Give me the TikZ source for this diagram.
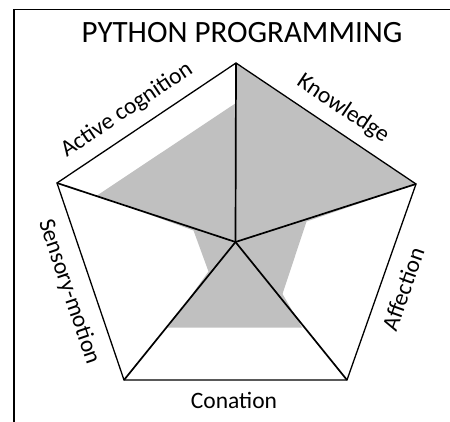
\documentclass[tikz,border=0pt]{standalone}
\usepackage{fontspec}
\setmainfont{Carlito}
\definecolor{radargray}{RGB}{192,192,192}
\begin{document}
\begin{tikzpicture}[x=1pt,y=-1pt,
  frame/.style={line width=1.6pt},
  rim/.style={line width=1.3pt, line join=miter},
  spoke/.style={line width=1.7pt},
  lab/.style={font=\fontsize{23.5}{25}\selectfont, inner sep=0pt},
  ttl/.style={font=\fontsize{31}{33}\selectfont, inner sep=0pt}]
\useasboundingbox (0,0) rectangle (450,421);
% radar area
\fill[radargray] (236,63) -- (416,184) -- (306.5,221.5) -- (282.5,294) -- (302,327.5)
  -- (168,327.5) -- (208.5,271.5) -- (193.5,230.5) -- (97,195.5) -- (236,103) -- cycle;
% frame
\draw[frame] (14,9.5) rectangle (470,440);
% vertices
\coordinate (c) at (235.5,242);
\coordinate (t) at (236,63);
\coordinate (r) at (416,184);
\coordinate (br) at (347,380);
\coordinate (bl) at (124,380);
\coordinate (l) at (57,183);
\draw[rim] (t) -- (r) -- (br) -- (bl) -- (l) -- cycle;
\foreach \v in {t,r,br,bl,l} \draw[spoke] (c) -- (\v);
% labels
\node[ttl] (title) at (242,33) {PYTHON PROGRAMMING};
\node[lab, rotate=33.8] (ac) at (127,110) {Active cognition};
\node[lab, rotate=-33.9] (kn) at (343,109) {Knowledge};
\node[lab, rotate=70.6] (af) at (403,289) {Affection};
\node[lab, rotate=-71.2] (sm) at (69,292) {Sensory-motion};
\node[lab] (co) at (234,400) {Conation};
\end{tikzpicture}
\end{document}
